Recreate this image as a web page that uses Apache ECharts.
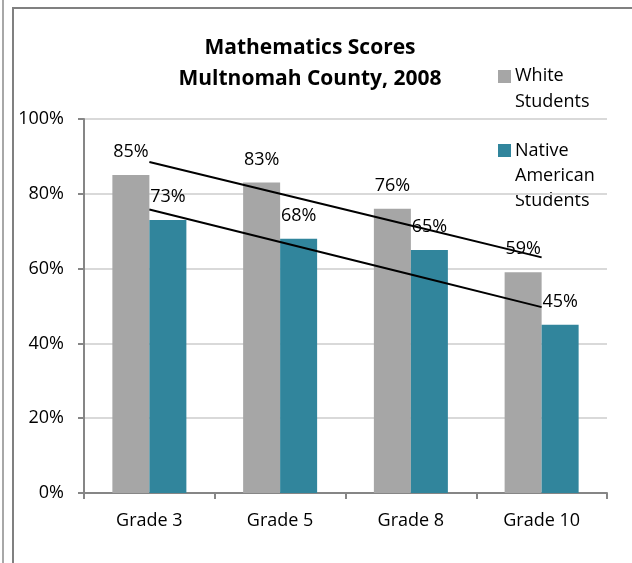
<!DOCTYPE html>
<html>
<head>
<meta charset="utf-8">
<script src="https://cdn.jsdelivr.net/npm/echarts@6/dist/echarts.min.js"></script>
<style>
  html, body { margin: 0; padding: 0; background: #fff; }
  #chart { width: 632px; height: 563px; }
</style>
</head>
<body>
<div id="chart"></div>
<script>
// data
const grades = ["Grade 3", "Grade 5", "Grade 8", "Grade 10"];
const whiteScores = [85, 83, 76, 59];
const nativeScores = [73, 68, 65, 45];
// trendline heights (%) as read at each category centre
const whiteTrend = [88.5, 80.0, 71.5, 63.0];
const nativeTrend = [75.8, 67.1, 58.4, 49.7];
const seriesNames = ["White Students", "Native American Students"];
const legendLines = ["White\nStudents", "Native\nAmerican\nStudents"];
const yTicks = [0, 20, 40, 60, 80, 100];

(function () {
  const FONT = "Open Sans";
  const GREY = "#a6a6a6";
  const TEAL = "#31859c";
  const chart = echarts.init(document.getElementById("chart"));

  const labelStyle = {
    show: true,
    position: "top",
    distance: 14,
    formatter: (p) => p.value + "%",
    fontFamily: FONT,
    fontSize: 18,
    color: "#000",
  };

  chart.setOption({
    animation: false,
    textStyle: { fontFamily: FONT },
    title: {
      text: "Mathematics Scores\nMultnomah County, 2008",
      left: 305,
      top: 28,
      textAlign: "center",
      textStyle: {
        fontFamily: FONT,
        fontWeight: "bold",
        fontSize: 21,
        lineHeight: 31,
        color: "#000",
      },
    },
    grid: { left: 84, right: 25, top: 119, bottom: 70 },
    xAxis: {
      type: "category",
      data: grades,
      axisLine: { lineStyle: { color: "#868686", width: 2 } },
      axisTick: { show: true, length: 6, lineStyle: { color: "#868686", width: 2 } },
      axisLabel: { fontFamily: FONT, fontSize: 18, color: "#000", margin: 19 },
    },
    yAxis: {
      type: "value",
      min: yTicks[0],
      max: yTicks[yTicks.length - 1],
      interval: 20,
      axisLine: { show: true, lineStyle: { color: "#868686", width: 2 } },
      axisTick: { show: true, length: 6, lineStyle: { color: "#868686", width: 2 } },
      axisLabel: {
        fontFamily: FONT,
        fontSize: 18,
        color: "#000",
        margin: 20,
        formatter: (v) => v + "%",
      },
      splitLine: { lineStyle: { color: "#d9d9d9", width: 2 } },
    },
    series: [
      {
        name: seriesNames[0],
        type: "bar",
        data: whiteScores,
        barWidth: 37,
        barGap: "0%",
        itemStyle: { color: GREY },
        label: labelStyle,
        z: 2,
      },
      {
        name: seriesNames[1],
        type: "bar",
        data: nativeScores,
        barWidth: 37,
        itemStyle: { color: TEAL },
        label: labelStyle,
        z: 2,
      },
      {
        type: "line",
        data: whiteTrend,
        symbol: "none",
        lineStyle: { color: "#000", width: 2 },
        silent: true,
        z: 5,
      },
      {
        type: "line",
        data: nativeTrend,
        symbol: "none",
        lineStyle: { color: "#000", width: 2 },
        silent: true,
        z: 5,
      },
    ],
    graphic: [
      // frame lines
      { type: "rect", shape: { x: 2, y: 0, width: 2, height: 563 }, style: { fill: "#a8a8a8" } },
      { type: "rect", shape: { x: 12, y: 7, width: 2, height: 556 }, style: { fill: "#808080" } },
      { type: "rect", shape: { x: 12, y: 7, width: 620, height: 2 }, style: { fill: "#808080" } },
      // legend
      { type: "rect", shape: { x: 498, y: 70, width: 13, height: 13 }, style: { fill: GREY } },
      {
        type: "text",
        x: 515,
        y: 63,
        style: { text: legendLines[0], font: "18px 'Open Sans'", lineHeight: 26, fill: "#000" },
      },
      { type: "rect", shape: { x: 498, y: 144, width: 13, height: 13 }, style: { fill: TEAL } },
      {
        type: "text",
        x: 515,
        y: 138,
        style: { text: legendLines[1], font: "18px 'Open Sans'", lineHeight: 25, fill: "#000" },
      },
    ],
  });
})();
</script>
</body>
</html>
